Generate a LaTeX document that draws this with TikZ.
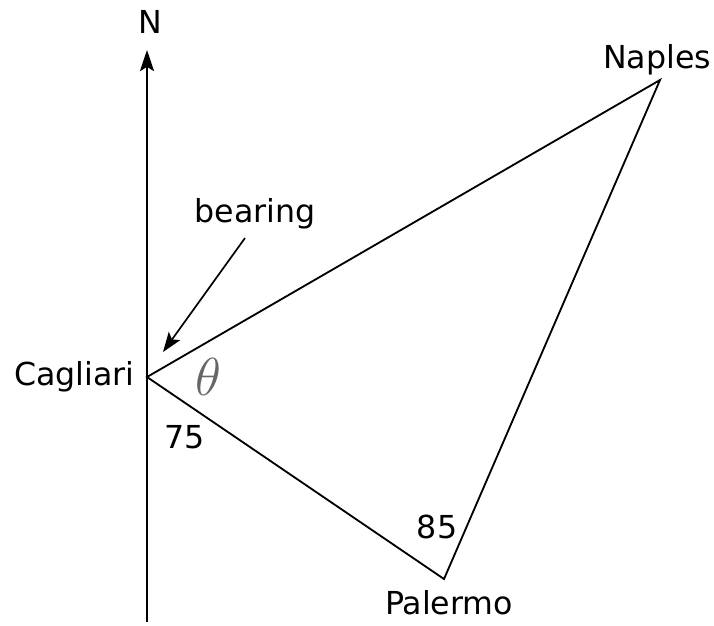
\documentclass[tikz,border=0pt]{standalone}
\usepackage{fix-cm}
\usepackage{fontspec}
\setmainfont{DejaVu Sans}
\usetikzlibrary{arrows.meta}
\begin{document}
\begin{tikzpicture}[x=0.025cm,y=-0.025cm,
  every node/.style={font=\fontsize{22.5}{26}\selectfont,inner sep=0pt},
  side/.style={line width=1.3pt}]
\useasboundingbox(0,0)rectangle(714,625);
% vertices and north line
\coordinate(C)at(147,377);
\coordinate(N)at(660,80);
\coordinate(P)at(444,579);
\coordinate(S)at(147,622);
\coordinate(T)at(147,50);
\draw[-{Stealth[length=15pt,width=10pt,inset=3pt]},line width=1.6pt](S)--(T);
\node(north)at(150,22){N};
% triangle
\draw[side](C)--(N)--(P)--cycle;
\node[anchor=east](cag)at(135,377){Cagliari};
\node(nap)at(657,60){Naples};
\node(pal)at(449,603){Palermo};
% angles
\node[text=black!60](theta)at(208,377){\fontsize{38}{40}\selectfont$\theta$};
\node(a75)at(185,437){75};
\node(a85)at(437,527){85};
% bearing arrow
\node(bear)at(255,214){bearing};
\coordinate(B)at(163,352);
\draw[-{Stealth[length=14pt,width=10pt,inset=3pt]},line width=1.2pt](245,238)--(B);
\end{tikzpicture}
\end{document}
